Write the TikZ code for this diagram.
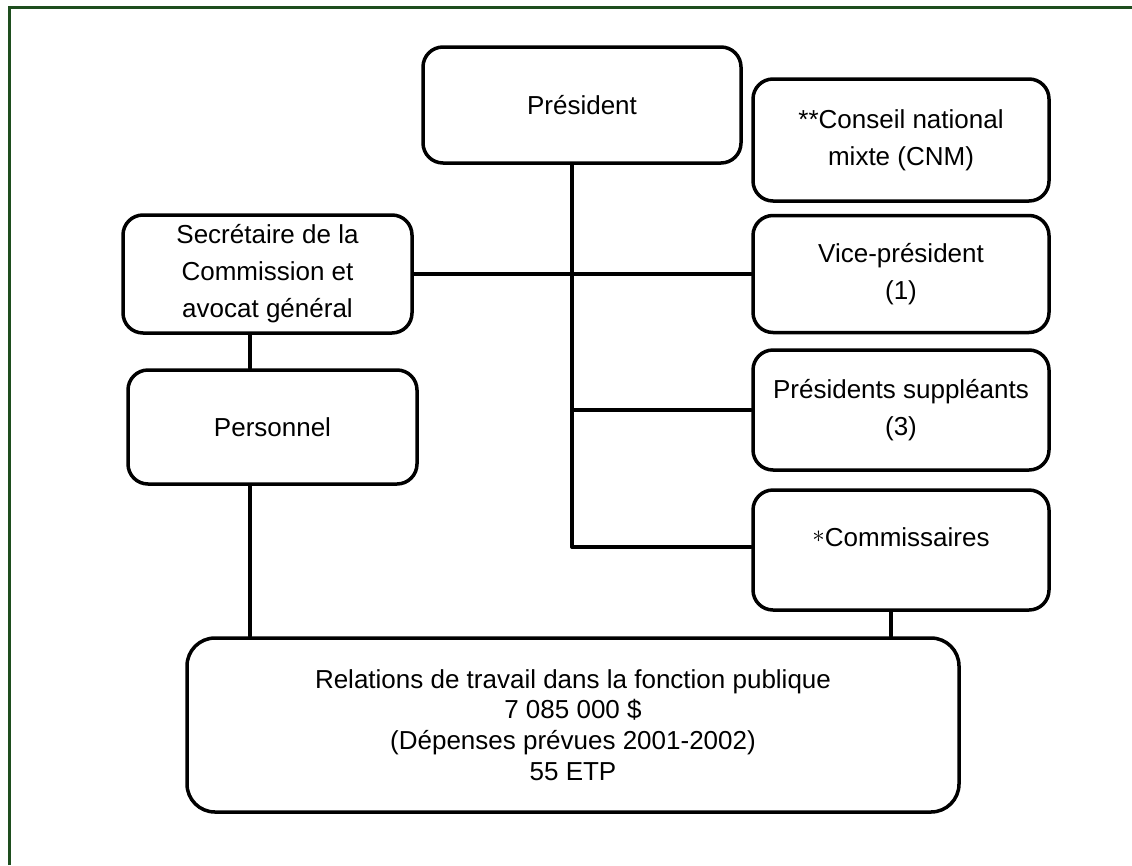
\documentclass[tikz,border=0pt]{standalone}
\usepackage{fontspec}
\setmainfont{Liberation Sans}
\definecolor{framegreen}{RGB}{30,78,30}
\begin{document}
\begin{tikzpicture}[x=1pt,y=-1pt,
  box/.style={draw, line width=3.5pt, rounded corners=20pt, inner sep=0pt, align=center,
              font=\fontsize{26}{37}\selectfont},
  link/.style={line width=3.5pt, line cap=round}]
\useasboundingbox (0,0) rectangle (1132,865);
\fill[white] (0,0) rectangle (1132,865);
\draw[framegreen, line width=3pt] (9,865) -- (9,7) -- (1132,7);

\node[box, minimum width=318pt, minimum height=116pt] (pres) at (582,105) {Président};
\node[box, minimum width=296pt, minimum height=122pt] (cnm) at (901,140) {**Conseil national\\mixte (CNM)};
\node[box, minimum width=289pt, minimum height=118pt] (sec) at (267.5,274) {Secrétaire de la\\Commission et\\avocat général};
\node[box, minimum width=296pt, minimum height=117pt] (vp) at (901,274) {Vice-président\\(1)};
\node[box, minimum width=289pt, minimum height=114pt] (pers) at (272.5,427) {Personnel};
\node[box, minimum width=296pt, minimum height=120pt] (ps) at (901,410) {Présidents suppléants\\(3)};
\node[box, minimum width=296pt, minimum height=120pt] (com) at (901,550) {};
\node[font=\fontsize{26}{37}\selectfont, inner sep=0pt] (comt) at (901,537) {\raisebox{4pt}{$\ast$}Commissaires};
\node[box, rounded corners=28pt, minimum width=772pt, minimum height=174pt,
      font=\fontsize{26}{30.7}\selectfont] (rel) at (573,725)
  {Relations de travail dans la fonction publique\\7 085 000 \$\\(Dépenses prévues 2001-2002)\\55 ETP};

\coordinate (spine) at (572,547);
\coordinate (lx) at (250,0);
\coordinate (cx) at (891,0);

\draw[link] (pres.south -| spine) -- (spine);
\draw[link] (sec.east) -- (sec.east -| vp.west);
\draw[link] (spine |- ps.west) -- (ps.west);
\draw[link] (spine) -- (spine -| com.west);
\draw[link] (sec.south -| lx) -- (pers.north -| lx);
\draw[link] (pers.south -| lx) -- (rel.north -| lx);
\draw[link] (com.south -| cx) -- (rel.north -| cx);
\end{tikzpicture}
\end{document}
